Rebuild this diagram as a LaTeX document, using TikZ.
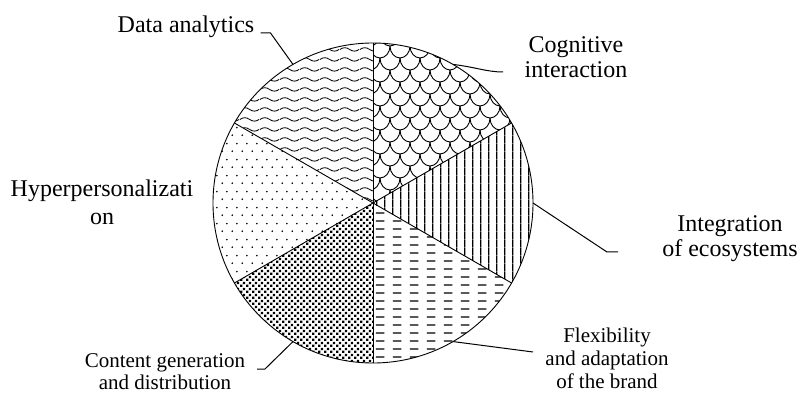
\documentclass[tikz,border=0pt]{standalone}
\usepackage{fontspec}
\setmainfont{Liberation Serif}
\usetikzlibrary{patterns}

% fill patterns of the six slices
\pgfdeclarepatternformonly{scales}{\pgfpoint{-1pt}{-1pt}}{\pgfpoint{21pt}{25pt}}{\pgfpoint{20pt}{24pt}}{%
  \pgfsetlinewidth{0.9pt}%
  \pgfpathmoveto{\pgfpoint{0pt}{24pt}}%
  \pgfpatharc{180}{360}{10pt and 12pt}%
  \pgfpathmoveto{\pgfpoint{0pt}{0pt}}%
  \pgfpatharc{270}{360}{10pt and 12pt}%
  \pgfpathmoveto{\pgfpoint{10pt}{12pt}}%
  \pgfpatharc{180}{270}{10pt and 12pt}%
  \pgfusepath{stroke}}
\pgfdeclarepatternformonly{waves}{\pgfpoint{0pt}{0pt}}{\pgfpoint{20pt}{10pt}}{\pgfpoint{20pt}{10pt}}{%
  \pgfsetlinewidth{0.9pt}%
  \pgfpathmoveto{\pgfpoint{0pt}{5pt}}%
  \pgfpathcurveto{\pgfpoint{3.5pt}{7.5pt}}{\pgfpoint{6.5pt}{7.5pt}}{\pgfpoint{10pt}{5pt}}%
  \pgfpathcurveto{\pgfpoint{13.5pt}{2.5pt}}{\pgfpoint{16.5pt}{2.5pt}}{\pgfpoint{20pt}{5pt}}%
  \pgfusepath{stroke}}
\pgfdeclarepatternformonly{vlines}{\pgfpoint{0pt}{0pt}}{\pgfpoint{8.3pt}{8.3pt}}{\pgfpoint{8.3pt}{8.3pt}}{%
  \pgfsetlinewidth{1.3pt}%
  \pgfpathmoveto{\pgfpoint{4.15pt}{0pt}}%
  \pgfpathlineto{\pgfpoint{4.15pt}{8.3pt}}%
  \pgfusepath{stroke}}
\pgfdeclarepatternformonly{hdashes}{\pgfpoint{0pt}{0pt}}{\pgfpoint{17pt}{8.4pt}}{\pgfpoint{17pt}{8.4pt}}{%
  \pgfsetlinewidth{1.4pt}%
  \pgfpathmoveto{\pgfpoint{2pt}{4.2pt}}%
  \pgfpathlineto{\pgfpoint{11pt}{4.2pt}}%
  \pgfusepath{stroke}}
\pgfdeclarepatternformonly{sparsedots}{\pgfpoint{0pt}{0pt}}{\pgfpoint{10pt}{16pt}}{\pgfpoint{10pt}{16pt}}{%
  \pgfpathcircle{\pgfpoint{2.5pt}{4pt}}{1pt}%
  \pgfpathcircle{\pgfpoint{7.5pt}{12pt}}{1pt}%
  \pgfusepath{fill}}
\pgfdeclarepatternformonly{squares}{\pgfpoint{0pt}{0pt}}{\pgfpoint{6pt}{6pt}}{\pgfpoint{6pt}{6pt}}{%
  \pgfpathrectangle{\pgfpoint{0.2pt}{0.2pt}}{\pgfpoint{2.6pt}{2.6pt}}%
  \pgfpathrectangle{\pgfpoint{3.2pt}{3.2pt}}{\pgfpoint{2.6pt}{2.6pt}}%
  \pgfusepath{fill}}

\tikzset{
  lbl/.style={inner sep=0pt, align=center, font=\fontsize{24}{25}\selectfont},
  smalllbl/.style={inner sep=0pt, align=center, font=\fontsize{21}{23}\selectfont},
  leader/.style={line width=1pt},
  rim/.style={line width=0.9pt}
}

\begin{document}
\begin{tikzpicture}[x=1pt,y=1pt]
\useasboundingbox (0,0) rectangle (798,394);

\coordinate (c) at (373,191);

% slices
\foreach \a/\p in {-30/vlines, 30/scales, 90/waves, 150/sparsedots, 210/squares, 270/hdashes}
{
 \fill[pattern=\p] (c) -- ++(\a:160) arc[start angle=\a, end angle=\a+60, radius=160] -- cycle;
}
\foreach \a in {30,90,...,330}
 \draw[rim] (c) -- ++(\a:160);
\draw[rim] (c) circle (160);

% labels (base = last line)
\node[lbl, anchor=base] (da) at (186,361) {Data analytics};
\node[lbl, anchor=base] (ci) at (576,316) {Cognitive\\interaction};
\node[lbl, anchor=base] (ie) at (730,137) {Integration\\of ecosystems};
\node[smalllbl, anchor=base] (fab) at (607,6) {Flexibility\\and adaptation\\of the brand};
\node[lbl, anchor=base, font=\fontsize{24}{28}\selectfont] (hp) at (102,169) {Hyperpersonalizati\\on};
\node[smalllbl, anchor=base, font=\fontsize{21}{22}\selectfont] (cgd) at (165,5) {Content generation\\and distribution};

% leaders
\coordinate (p-da) at ([shift={(120:160)}]c);
\coordinate (p-ci) at ([shift={(60:160)}]c);
\coordinate (p-ie) at ([shift={(0:160)}]c);
\coordinate (p-fab) at ([shift={(-60:160)}]c);
\coordinate (p-cgd) at ([shift={(-120:160)}]c);
\coordinate (k-ci) at (503,322);
\coordinate (k-ie) at (607,142);
\coordinate (k-fab) at (533,42);
\coordinate (k-cgd) at (265,25);

\draw[leader] ([xshift=6pt]da.base east) -- ++(10,0) -- (p-da);
\draw[leader] (p-ci) .. controls (475,327) and (487,322) .. (k-ci);
\draw[leader] (p-ie) -- (k-ie) -- ++(11,0);
\draw[leader] (p-fab) -- (k-fab);
\draw[leader] (p-cgd) -- (k-cgd) -- ++(-8,0);

\end{tikzpicture}
\end{document}
